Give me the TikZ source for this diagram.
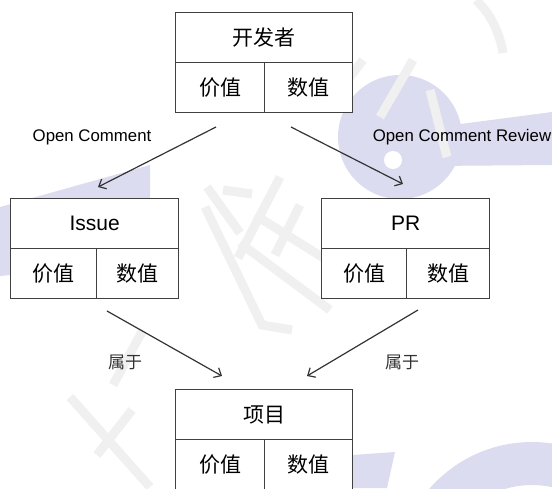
\documentclass[tikz,border=0pt]{standalone}
\usepackage{fontspec}
\setmainfont{Liberation Sans}
\newfontfamily\cjk{Noto Sans CJK SC}
\usetikzlibrary{arrows.meta}
\definecolor{linec}{HTML}{404040}
\definecolor{arrc}{HTML}{333333}
\definecolor{lav}{HTML}{DCDCF0}
\definecolor{wmgray}{HTML}{F0F0F0}
\tikzset{
  cell/.style={draw=linec, line width=1.3pt, fill=white, anchor=north west,
    inner sep=0pt, minimum height=50pt, font=\cjk\fontsize{21}{21}\selectfont},
  latincell/.style={cell, font=\fontsize{21}{21}\selectfont},
  conn/.style={draw=arrc, line width=1.2pt, -{Straight Barb[length=6pt,width=11pt]}},
  elabel/.style={font=\fontsize{16.8}{16.8}\selectfont, text=black, inner sep=0pt},
  clabel/.style={font=\cjk\fontsize{17}{17}\selectfont, text=arrc, inner sep=0pt},
  wm/.style={draw=wmgray, line width=9pt},
}
\begin{document}
\begin{tikzpicture}[x=1pt,y=-1pt]
\useasboundingbox (0,0) rectangle (552,488);
% ---- watermark ----
\fill[lav] (0,207) -- (150,165) -- (150,262) -- (0,276) -- cycle;
\fill[lav] (400,137) circle[radius=62];
\fill[lav] (430,128) -- (552,112) -- (552,165) -- (430,166) -- cycle;
\fill[white] (393,160) circle[radius=9];
\fill[lav, even odd rule] (532,578) circle[radius=136] (532,578) circle[radius=93];
\fill[lav] (352,455) -- (395,452) -- (387,488) -- (352,488) -- cycle;
\draw[wm] (205,207) -- (262,325) -- (292,330);
\draw[wm] (280,177) -- (238,258);
\draw[wm] (223,190) -- (252,194);
\draw[wm] (240,243) -- (330,310);
\draw[wm] (255,215) -- (330,262);
\draw[wm] (300,205) -- (275,255);
\draw[wm] (143,330) -- (113,385);
\draw[wm] (70,397) -- (150,487);
\draw[wm] (97,455) -- (132,410);
\draw[wm] (363,60) -- (330,103);
\draw[wm] (413,60) -- (380,117);
\draw[wm] (430,90) -- (447,157);
\draw[wm] (476,0) .. controls (492,15) and (500,35) .. (503,53);
\draw[wm] (207,187) -- (240,233);
% ---- boxes ----
\node[cell, minimum width=177pt] (dev) at (175,12) {开发者};
\node[cell, minimum width=89pt] (devv) at (175,62) {价值};
\node[cell, minimum width=88pt] (devn) at (264,62) {数值};

\node[latincell, minimum width=168pt] (iss) at (10,198) {Issue};
\node[cell, minimum width=86pt] (issv) at (10,248) {价值};
\node[cell, minimum width=82pt] (issn) at (96,248) {数值};

\node[latincell, minimum width=168pt] (pr) at (321,198) {PR};
\node[cell, minimum width=85pt] (prv) at (321,248) {价值};
\node[cell, minimum width=83pt] (prn) at (406,248) {数值};

\node[cell, minimum width=177pt] (proj) at (175,389) {项目};
\node[cell, minimum width=89pt] (projv) at (175,439) {价值};
\node[cell, minimum width=88pt] (projn) at (264,439) {数值};
% ---- connectors ----
\coordinate (a1s) at (216,127);
\coordinate (a1e) at (98,187);
\coordinate (a2s) at (291,127);
\coordinate (a2e) at (403,184);
\coordinate (a3s) at (107,311);
\coordinate (a3e) at (222,376);
\coordinate (a4s) at (418,310);
\coordinate (a4e) at (307,376);
\draw[conn] (a1s) -- (a1e);
\draw[conn] (a2s) -- (a2e);
\draw[conn] (a3s) -- (a3e);
\draw[conn] (a4s) -- (a4e);
% ---- labels ----
\node[elabel] (l1) at (92,137) {Open Comment};
\node[elabel] (l2) at (462,137) {Open Comment Review};
\node[clabel] (l3) at (125,362) {属于};
\node[clabel] (l4) at (402,362) {属于};
\end{tikzpicture}
\end{document}
